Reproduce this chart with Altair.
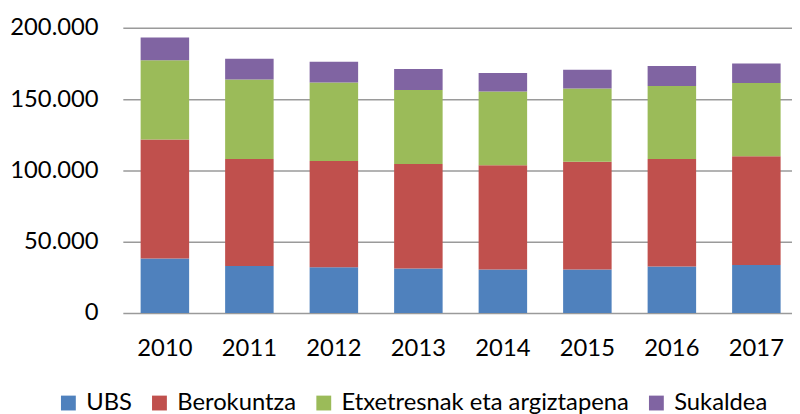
import altair as alt
import pandas as pd

years = ["2010", "2011", "2012", "2013", "2014", "2015", "2016", "2017"]
series = ["UBS", "Berokuntza", "Etxetresnak eta argiztapena", "Sukaldea"]
colors = ["#4F81BD", "#C0504D", "#9BBB59", "#8064A2"]

ubs = [38200, 33000, 32100, 31200, 30500, 30500, 32600, 33700]
berokuntza = [83400, 75000, 74500, 73300, 73100, 75600, 75400, 76300]
etxetresnak = [55700, 55700, 55000, 52000, 51800, 51400, 51300, 51400]
sukaldea = [16000, 14600, 14600, 14600, 12900, 13200, 13900, 13600]

values = [ubs, berokuntza, etxetresnak, sukaldea]
rows = []
for si, (name, vals) in enumerate(zip(series, values)):
    for y, v in zip(years, vals):
        rows.append({"year": y, "series": name, "value": v, "order": si})
df = pd.DataFrame(rows)

FONT = "Lato"

chart = (
    alt.Chart(df)
    .mark_bar()
    .encode(
        x=alt.X(
            "year:N",
            title=None,
            scale=alt.Scale(paddingInner=0.426, paddingOuter=0.1727, align=0.61),
            axis=alt.Axis(
                labelAngle=0,
                domain=False,
                ticks=False,
                labelFontSize=24,
                labelFont=FONT,
                labelColor="#000000",
                labelPadding=36,
                labelBaseline="middle",
            ),
        ),
        y=alt.Y(
            "value:Q",
            title=None,
            stack="zero",
            scale=alt.Scale(domain=[0, 200000], nice=False),
            axis=alt.Axis(
                values=[0, 50000, 100000, 150000, 200000],
                labelExpr="replace(format(datum.value, ','), ',', '.')",
                domain=False,
                ticks=False,
                tickSize=0,
                grid=True,
                gridColor="#9a9a9a",
                gridWidth=1.5,
                labelFontSize=24,
                labelFont=FONT,
                labelColor="#000000",
                labelPadding=25,
            ),
        ),
        color=alt.Color(
            "series:N",
            scale=alt.Scale(domain=series, range=colors),
            legend=alt.Legend(
                title=None,
                orient="none",
                direction="horizontal",
                legendX=-67,
                legendY=367,
                symbolType="square",
                symbolSize=225,
                symbolStrokeWidth=0,
                labelFont=FONT,
                labelFontSize=24,
                labelColor="#000000",
                labelLimit=500,
                labelOffset=6,
                columnPadding=15,
                padding=0,
            ),
        ),
        order=alt.Order("order:Q", sort="ascending"),
    )
    .properties(
        width=676,
        height=288,
        autosize=alt.AutoSizeParams(type="none"),
        padding={"left": 116, "top": 18, "right": 0, "bottom": 100},
    )
    .configure_view(stroke=None)
)

chart.save("out.html", embed_options={"renderer": "svg", "actions": False})
